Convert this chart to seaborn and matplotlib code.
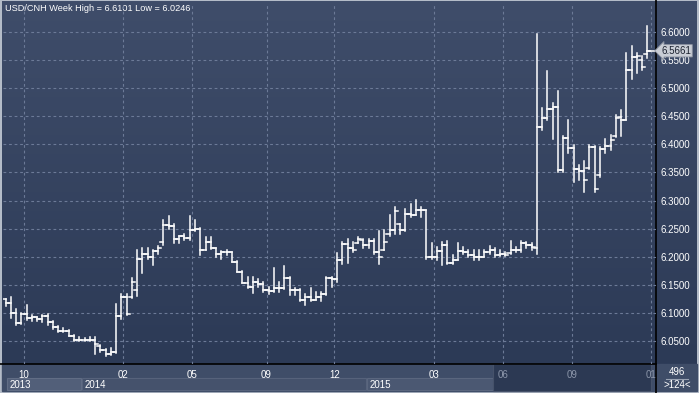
import numpy as np
import pandas as pd
import matplotlib.pyplot as plt
import seaborn as sns
from matplotlib.colors import LinearSegmentedColormap
from matplotlib.patches import Rectangle

# weekly USD/CNH bars, oldest first
opens = [6.125, 6.118, 6.100, 6.083, 6.098, 6.092, 6.093, 6.090, 6.095, 6.085,
         6.075, 6.068, 6.068, 6.060, 6.053, 6.052, 6.052, 6.052, 6.042, 6.035,
         6.027, 6.031, 6.095, 6.128, 6.128, 6.141, 6.197, 6.205, 6.200, 6.210,
         6.226, 6.257, 6.255, 6.231, 6.237, 6.234, 6.247, 6.250, 6.213, 6.226,
         6.215, 6.206, 6.208, 6.208, 6.191, 6.174, 6.154, 6.147, 6.155, 6.152,
         6.141, 6.140, 6.144, 6.144, 6.162, 6.142, 6.142, 6.124, 6.128, 6.124,
         6.128, 6.134, 6.162, 6.160, 6.194, 6.223, 6.215, 6.225, 6.230, 6.221,
         6.228, 6.209, 6.213, 6.240, 6.247, 6.258, 6.247, 6.276, 6.275, 6.284,
         6.284, 6.200, 6.200, 6.211, 6.221, 6.189, 6.194, 6.211, 6.209, 6.203,
         6.200, 6.200, 6.209, 6.213, 6.203, 6.206, 6.207, 6.212, 6.213, 6.225,
         6.222, 6.215, 6.430, 6.447, 6.462, 6.466, 6.354, 6.411, 6.394, 6.357,
         6.352, 6.358, 6.395, 6.346, 6.392, 6.397, 6.415, 6.448, 6.443, 6.532,
         6.555, 6.550, 6.560]
highs = [6.126, 6.128, 6.108, 6.101, 6.115, 6.097, 6.094, 6.097, 6.098, 6.086,
         6.078, 6.073, 6.070, 6.061, 6.057, 6.056, 6.057, 6.058, 6.044, 6.036,
         6.039, 6.116, 6.135, 6.135, 6.163, 6.213, 6.215, 6.215, 6.213, 6.219,
         6.265, 6.272, 6.258, 6.238, 6.240, 6.272, 6.265, 6.252, 6.236, 6.236,
         6.216, 6.210, 6.212, 6.209, 6.192, 6.175, 6.164, 6.165, 6.161, 6.155,
         6.147, 6.180, 6.155, 6.184, 6.165, 6.144, 6.143, 6.134, 6.145, 6.137,
         6.138, 6.164, 6.164, 6.207, 6.226, 6.232, 6.226, 6.236, 6.231, 6.232,
         6.231, 6.246, 6.247, 6.274, 6.289, 6.259, 6.285, 6.294, 6.301, 6.288,
         6.284, 6.225, 6.218, 6.226, 6.229, 6.203, 6.225, 6.218, 6.212, 6.212,
         6.212, 6.212, 6.219, 6.215, 6.212, 6.209, 6.229, 6.218, 6.228, 6.226,
         6.224, 6.596, 6.464, 6.531, 6.474, 6.495, 6.415, 6.444, 6.399, 6.363,
         6.371, 6.399, 6.397, 6.396, 6.409, 6.417, 6.452, 6.461, 6.562, 6.574,
         6.562, 6.556, 6.6101]
lows = [6.113, 6.092, 6.079, 6.080, 6.088, 6.087, 6.086, 6.085, 6.079, 6.072,
        6.066, 6.066, 6.059, 6.051, 6.051, 6.051, 6.050, 6.028, 6.031, 6.0246,
        6.026, 6.030, 6.089, 6.096, 6.127, 6.130, 6.172, 6.196, 6.186, 6.206,
        6.222, 6.250, 6.224, 6.224, 6.230, 6.230, 6.246, 6.204, 6.212, 6.214,
        6.199, 6.197, 6.204, 6.191, 6.174, 6.154, 6.144, 6.136, 6.146, 6.138,
        6.135, 6.138, 6.137, 6.143, 6.133, 6.133, 6.122, 6.115, 6.122, 6.123,
        6.122, 6.133, 6.146, 6.156, 6.188, 6.190, 6.209, 6.224, 6.215, 6.215,
        6.206, 6.188, 6.212, 6.238, 6.241, 6.241, 6.246, 6.271, 6.274, 6.271,
        6.197, 6.197, 6.194, 6.185, 6.188, 6.188, 6.194, 6.206, 6.200, 6.194,
        6.194, 6.200, 6.206, 6.200, 6.201, 6.201, 6.206, 6.209, 6.209, 6.215,
        6.213, 6.205, 6.425, 6.443, 6.409, 6.351, 6.350, 6.385, 6.333, 6.336,
        6.315, 6.357, 6.315, 6.342, 6.384, 6.389, 6.413, 6.415, 6.443, 6.516,
        6.526, 6.532, 6.553]
closes = [6.118, 6.100, 6.083, 6.098, 6.092, 6.093, 6.090, 6.095, 6.085, 6.075,
          6.068, 6.068, 6.060, 6.053, 6.052, 6.052, 6.052, 6.045, 6.035, 6.027,
          6.031, 6.095, 6.128, 6.099, 6.155, 6.197, 6.205, 6.200, 6.210, 6.215,
          6.257, 6.255, 6.231, 6.237, 6.234, 6.247, 6.250, 6.213, 6.226, 6.215,
          6.206, 6.208, 6.208, 6.191, 6.174, 6.154, 6.147, 6.155, 6.152, 6.141,
          6.140, 6.144, 6.144, 6.162, 6.142, 6.142, 6.124, 6.128, 6.124, 6.128,
          6.134, 6.162, 6.160, 6.194, 6.223, 6.215, 6.213, 6.232, 6.221, 6.228,
          6.209, 6.200, 6.226, 6.247, 6.281, 6.247, 6.276, 6.275, 6.284, 6.284,
          6.200, 6.200, 6.211, 6.221, 6.189, 6.194, 6.211, 6.209, 6.203, 6.200,
          6.200, 6.209, 6.213, 6.203, 6.206, 6.203, 6.212, 6.213, 6.225, 6.222,
          6.217, 6.430, 6.447, 6.462, 6.466, 6.354, 6.411, 6.394, 6.357, 6.352,
          6.337, 6.395, 6.321, 6.392, 6.397, 6.408, 6.447, 6.443, 6.532, 6.555,
          6.557, 6.538, 6.5661]

month_pos = [3.4, 22.4, 35.5, 49.6, 62.5, 81.5, 94.6, 107.7, 122.7]
month_labels = ['10', '02', '05', '09', '12', '03', '06', '09', '01']
price_ticks = [6.05, 6.10, 6.15, 6.20, 6.25, 6.30, 6.35, 6.40, 6.45, 6.50, 6.55, 6.60]

plt.rcParams['font.family'] = ['Liberation Sans', 'DejaVu Sans']

fig = plt.figure(figsize=(6.99, 3.93), dpi=100)
fig.patch.set_facecolor('#b4bcc8')

# background layer in pixel coordinates
bg = fig.add_axes([0, 0, 1, 1], zorder=0)
bg.set_xlim(0, 699)
bg.set_ylim(393, 0)
bg.axis('off')
grad = LinearSegmentedColormap.from_list('g', ['#3f4d6a', '#2c3a56'])
bg.imshow(np.linspace(0, 1, 256)[:, None], extent=(2, 697, 364, 1), cmap=grad, aspect='auto')
bg.add_patch(Rectangle((2, 364), 695, 27, color='#3f4d68'))
bg.add_patch(Rectangle((7, 378), 74, 12, facecolor='#525f79', edgecolor='#616d85', lw=0.8))
bg.add_patch(Rectangle((82, 378), 284, 12, facecolor='#45526c', edgecolor='#56627b', lw=0.8))
bg.add_patch(Rectangle((367, 378), 126, 12, facecolor='#4b5872', edgecolor='#5a667e', lw=0.8))
bg.add_patch(Rectangle((493, 364), 158, 27, facecolor='#2c3953', edgecolor='#46526a', lw=0.8))
bg.text(10, 384.5, '2013', color='white', fontsize=7, va='center')
bg.text(85, 384.5, '2014', color='white', fontsize=7, va='center')
bg.text(370, 384.5, '2015', color='white', fontsize=7, va='center')
bg.plot([0, 656], [364, 364], color='black', lw=1.2)
bg.plot([656, 656], [0, 393], color='black', lw=1.2)
bg.text(677, 372, '496', color='white', fontsize=7, ha='center', va='center')
bg.plot([666, 688], [378.5, 378.5], color='#9aa3b3', lw=0.8)
bg.text(677, 385, '>124<', color='white', fontsize=7, ha='center', va='center')
bg.text(5, 8.5, 'USD/CNH Week High = 6.6101 Low = 6.0246', color='white', fontsize=6.6, va='center')

# price area
ax = fig.add_axes([3 / 699, 29 / 393, 653 / 699, 360 / 393], zorder=1)
ax.set_facecolor('none')

rows = []
for i in range(len(closes)):
    rows += [(i, lows[i], 3 * i), (i, highs[i], 3 * i),
             (i - 0.6, opens[i], 3 * i + 1), (i, opens[i], 3 * i + 1),
             (i, closes[i], 3 * i + 2), (i + 0.6, closes[i], 3 * i + 2)]
segs = pd.DataFrame(rows, columns=['week', 'price', 'seg'])
sns.lineplot(data=segs, x='week', y='price', units='seg', estimator=None, sort=False,
             color='white', lw=1.1, ax=ax, legend=False)

ax.set_xlim(-0.5, 123.65)
ax.set_ylim(6.0098, 6.6492)
ax.set_xlabel('')
ax.set_ylabel('')
ax.set_xticks(month_pos)
ax.set_xticklabels(month_labels)
ax.set_yticks(price_ticks)
ax.set_yticklabels(['%.4f' % p for p in price_ticks])
ax.yaxis.tick_right()
ax.tick_params(length=0, labelsize=7, labelcolor='white')
ax.tick_params(axis='x', pad=4)
ax.tick_params(axis='y', pad=3)
for lab in ax.get_xticklabels()[6:]:
    lab.set_color('#8c96aa')
ax.grid(True, color='#6c7a97', lw=0.8, linestyle=(0, (2.5, 2.5)))
for s in ax.spines.values():
    s.set_visible(False)

# last price marker
ax.plot([len(closes) - 1, 123.65], [closes[-1], closes[-1]], color='white', lw=1.1)
ax.text(1.008, closes[-1], '%.4f' % closes[-1], transform=ax.get_yaxis_transform(),
        fontsize=7, color='#1c2230', va='center', ha='left', zorder=5, clip_on=False,
        bbox=dict(boxstyle='larrow,pad=0.12', fc='#c9cdd5', ec='#8d94a2', lw=0.6))

plt.savefig('out.png', dpi=100)
